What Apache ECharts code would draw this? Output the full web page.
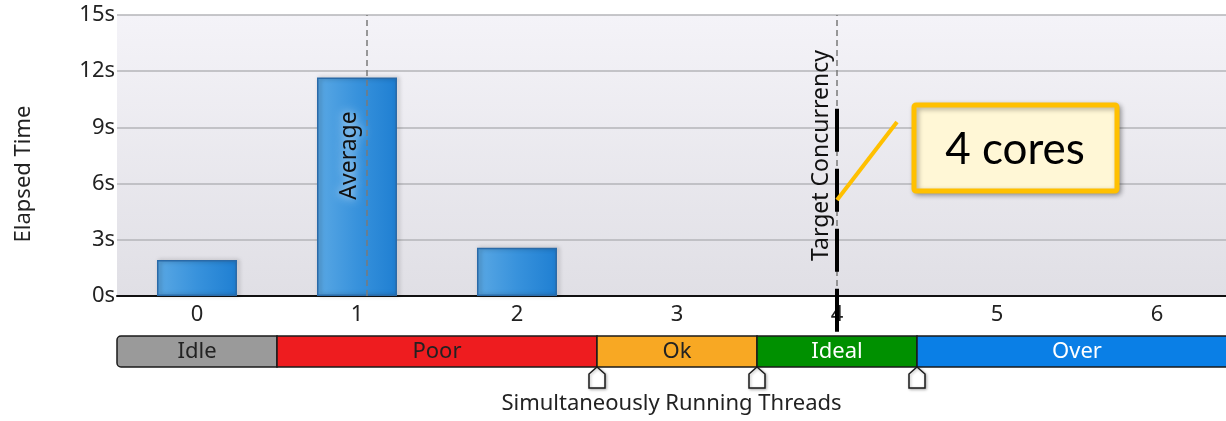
<!DOCTYPE html>
<html>
<head>
<meta charset="utf-8">
<script src="https://cdn.jsdelivr.net/npm/echarts@6/dist/echarts.min.js"></script>
<style>
  html, body { margin: 0; padding: 0; background: #fff; }
  #main { width: 1226px; height: 421px; }
</style>
</head>
<body>
<div id="main"></div>
<script>
// data
var threads = [0, 1, 2, 3, 4, 5, 6];
var elapsed = [1.92, 11.66, 2.58, 0, 0, 0, 0];
var yTicks = [0, 3, 6, 9, 12, 15];
var averageThreads = 1.06;
var targetConcurrency = 4;
var zoneNames = ['Idle', 'Poor', 'Ok', 'Ideal', 'Over'];
var zoneStart = [-0.5, 0.5, 2.5, 3.5, 4.5];
var zoneEnd = [0.5, 2.5, 3.5, 4.5, 6.5];
var zoneMarkers = [2.5, 3.5, 4.5];
var calloutText = '4 cores';

var FONT = '"Noto Sans", "DejaVu Sans", sans-serif';
var zoneFill = { Idle: '#9a9a9a', Poor: '#ee1c1f', Ok: '#f8a823', Ideal: '#009000', Over: '#0a7fe6' };
var zoneText = { Idle: '#222', Poor: '#222', Ok: '#222', Ideal: '#fff', Over: '#fff' };

// the original plot runs off the right edge: 160px per thread, 1109px visible
var X_MIN = -0.5;
var X_MAX = X_MIN + 1109 / 160;

var chart = echarts.init(document.getElementById('main'));

var barData = [];
for (var i = 0; i < threads.length; i++) {
  if (elapsed[i] > 0) barData.push([threads[i], elapsed[i]]);
}
var zoneData = [];
for (var j = 0; j < zoneNames.length; j++) {
  zoneData.push([zoneStart[j], zoneEnd[j], zoneNames[j]]);
}

var option = {
  animation: false,
  grid: [
    {
      left: 117, top: 15, right: 0, height: 281, show: true, borderWidth: 0,
      backgroundColor: new echarts.graphic.LinearGradient(0, 0, 0, 1, [
        { offset: 0, color: '#f4f3f8' }, { offset: 1, color: '#e0dfe5' }
      ])
    },
    { left: 117, top: 336, right: 0, height: 31 }
  ],
  xAxis: [
    {
      type: 'value', gridIndex: 0, min: X_MIN, max: X_MAX,
      axisLine: { onZero: false, lineStyle: { color: '#111', width: 2 } },
      axisTick: { show: false },
      splitLine: { show: false },
      axisLabel: { customValues: threads, fontFamily: FONT, fontSize: 22, color: '#222', margin: 8 }
    },
    {
      type: 'value', gridIndex: 1, min: X_MIN, max: X_MAX,
      axisLine: { show: false }, axisTick: { show: false }, axisLabel: { show: false },
      splitLine: { show: false },
      name: 'Simultaneously Running Threads', nameLocation: 'middle', nameGap: 26,
      nameTextStyle: { fontFamily: FONT, fontSize: 22, color: '#222' }
    }
  ],
  yAxis: [
    {
      type: 'value', gridIndex: 0, min: yTicks[0], max: yTicks[yTicks.length - 1], interval: 3,
      axisLine: { show: false }, axisTick: { show: false },
      axisLabel: { fontFamily: FONT, fontSize: 22, color: '#222', margin: 2, formatter: '{value}s' },
      splitLine: { lineStyle: { color: '#b5b5b8', width: 1.5 } }
    },
    { type: 'value', gridIndex: 1, min: 0, max: 1, show: false }
  ],
  series: [
    {
      type: 'bar', xAxisIndex: 0, yAxisIndex: 0, data: barData, barWidth: 80,
      itemStyle: {
        color: new echarts.graphic.LinearGradient(0, 0, 1, 0, [
          { offset: 0, color: '#5aa8e4' }, { offset: 0.5, color: '#3892dc' }, { offset: 1, color: '#1f7fd2' }
        ]),
        borderColor: '#2a6aa8', borderWidth: 1.5,
        shadowColor: 'rgba(0,0,0,0.35)', shadowBlur: 4, shadowOffsetX: 2
      },
      markLine: {
        symbol: 'none', silent: true,
        lineStyle: { color: '#7a7a7a', width: 1.5, type: [6, 4] },
        label: { show: false },
        data: [{ xAxis: averageThreads }, { xAxis: targetConcurrency }]
      }
    },
    {
      type: 'custom', xAxisIndex: 1, yAxisIndex: 1, data: zoneData,
      renderItem: function (params, api) {
        var a = api.coord([api.value(0), 1]);
        var b = api.coord([api.value(1), 0]);
        var name = zoneData[params.dataIndex][2];
        return {
          type: 'rect',
          shape: { x: a[0], y: a[1], width: b[0] - a[0], height: b[1] - a[1], r: params.dataIndex === 0 ? [4, 0, 0, 4] : 0 },
          style: { fill: zoneFill[name], stroke: '#1a1a1a', lineWidth: 1.5 },
          textContent: { style: { text: name, fill: zoneText[name], font: '22px ' + FONT } },
          textConfig: { position: 'inside' }
        };
      }
    },
    {
      type: 'custom', xAxisIndex: 1, yAxisIndex: 1, data: zoneMarkers.map(function (v) { return [v]; }),
      renderItem: function (params, api) {
        var p = api.coord([api.value(0), 0]);
        var x = p[0], y = p[1];
        return {
          type: 'polygon',
          shape: { points: [[x, y], [x + 8, y + 7], [x + 8, y + 21], [x - 8, y + 21], [x - 8, y + 7]] },
          style: { fill: '#fff', stroke: '#1a1a1a', lineWidth: 1.5, shadowColor: 'rgba(0,0,0,0.3)', shadowBlur: 3, shadowOffsetX: 1, shadowOffsetY: 1 }
        };
      }
    }
  ]
};
chart.setOption(option);

// overlays placed from the axes
var avgX = chart.convertToPixel({ xAxisIndex: 0 }, averageThreads);
var tgtX = chart.convertToPixel({ xAxisIndex: 0 }, targetConcurrency);
var midY = chart.convertToPixel({ yAxisIndex: 0 }, 7.5);
var topThick = chart.convertToPixel({ yAxisIndex: 0 }, 10);
var bandTop = chart.convertToPixel({ yAxisIndex: 1 }, 1);

chart.setOption({
  graphic: [
    {
      type: 'text', x: 24, y: 174, rotation: Math.PI / 2,
      style: { text: 'Elapsed Time', font: '22px ' + FONT, fill: '#222', align: 'center', verticalAlign: 'middle' }
    },
    {
      type: 'text', x: avgX - 17, y: midY, rotation: Math.PI / 2, z: 10,
      style: {
        text: 'Average', font: '23px ' + FONT, fill: '#111', align: 'center', verticalAlign: 'middle',
        textShadowColor: 'rgba(255,255,255,0.9)', textShadowBlur: 10
      }
    },
    {
      type: 'text', x: tgtX - 16, y: midY, rotation: Math.PI / 2, z: 10,
      style: { text: 'Target Concurrency', font: '23px ' + FONT, fill: '#111', align: 'center', verticalAlign: 'middle' }
    },
    {
      type: 'line', z: 11,
      shape: { x1: tgtX, y1: topThick, x2: tgtX, y2: bandTop - 3 },
      style: { stroke: '#000', lineWidth: 4, lineDash: [43, 17] }
    },
    {
      type: 'line', z: 12,
      shape: { x1: 897, y1: 122, x2: tgtX, y2: 200 },
      style: { stroke: '#ffc000', lineWidth: 4 }
    },
    {
      type: 'rect', z: 12,
      shape: { x: 914, y: 105, width: 203, height: 86, r: 2 },
      style: { fill: '#fff7d6', stroke: '#ffc000', lineWidth: 5, shadowColor: 'rgba(0,0,0,0.3)', shadowBlur: 5, shadowOffsetX: 2, shadowOffsetY: 2 }
    },
    {
      type: 'text', z: 13, x: 1015, y: 150,
      style: { text: calloutText, font: '44px Lato, "Open Sans", sans-serif', fill: '#000', align: 'center', verticalAlign: 'middle' }
    }
  ]
});
</script>
</body>
</html>
